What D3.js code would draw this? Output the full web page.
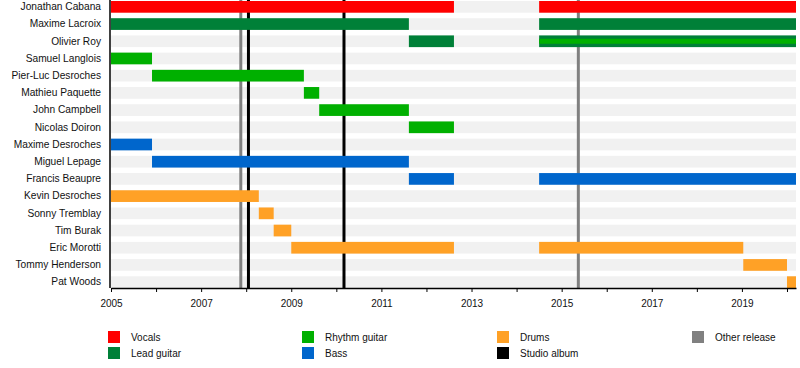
<!DOCTYPE html>
<html>
<head>
<meta charset="utf-8">
<script src="https://cdn.jsdelivr.net/npm/d3@7"></script>
<style>
  html, body { margin: 0; padding: 0; background: #fff; }
  svg { display: block; font-family: "Liberation Sans", Arial, sans-serif; }
</style>
</head>
<body>
<svg id="chart" width="800" height="368"></svg>
<script>
const members = ["Jonathan Cabana","Maxime Lacroix","Olivier Roy","Samuel Langlois","Pier-Luc Desroches",
  "Mathieu Paquette","John Campbell","Nicolas Doiron","Maxime Desroches","Miguel Lepage","Francis Beaupre",
  "Kevin Desroches","Sonny Tremblay","Tim Burak","Eric Morotti","Tommy Henderson","Pat Woods"];
const roleNames = ["Vocals","Lead guitar","Rhythm guitar","Bass","Drums"];
const roleColors = ["#ff0000","#008038","#00b000","#0066cc","#ffa126"];
// [member, role, start, end]
const tenures = [
  ["Jonathan Cabana","Vocals",2005,2012.61],["Jonathan Cabana","Vocals",2014.5,2020.2],
  ["Maxime Lacroix","Lead guitar",2005,2011.61],["Maxime Lacroix","Lead guitar",2014.5,2020.2],
  ["Olivier Roy","Lead guitar",2011.61,2012.61],["Olivier Roy","Lead guitar",2014.5,2020.2],
  ["Samuel Langlois","Rhythm guitar",2005,2005.91],
  ["Pier-Luc Desroches","Rhythm guitar",2005.91,2009.28],
  ["Mathieu Paquette","Rhythm guitar",2009.28,2009.62],
  ["John Campbell","Rhythm guitar",2009.62,2011.61],
  ["Nicolas Doiron","Rhythm guitar",2011.61,2012.61],
  ["Maxime Desroches","Bass",2005,2005.91],
  ["Miguel Lepage","Bass",2005.91,2011.61],
  ["Francis Beaupre","Bass",2011.61,2012.61],["Francis Beaupre","Bass",2014.5,2020.2],
  ["Kevin Desroches","Drums",2005,2008.28],
  ["Sonny Tremblay","Drums",2008.28,2008.61],
  ["Tim Burak","Drums",2008.61,2009.0],
  ["Eric Morotti","Drums",2009.0,2012.61],["Eric Morotti","Drums",2014.5,2019.03],
  ["Tommy Henderson","Drums",2019.03,2020.0],
  ["Pat Woods","Drums",2020.0,2020.2]
];
// secondary role stripes [member, role, start, end]
const secondary = [["Olivier Roy","Rhythm guitar",2014.5,2020.2]];
const studioAlbums = [2008.05, 2010.17];
const otherReleases = [2007.88, 2015.37];
const yearTicks = [2005,2006,2007,2008,2009,2010,2011,2012,2013,2014,2015,2016,2017,2018,2019,2020];
const startYear = 2005, endYear = 2020.2;
const legendItems = [
  ["Vocals","#ff0000"],["Lead guitar","#008038"],["Rhythm guitar","#00b000"],["Bass","#0066cc"],
  ["Drums","#ffa126"],["Studio album","#000000"],["Other release","#808080"]
];

const svg = d3.select("#chart");
const x = d3.scaleLinear().domain([startYear, endYear]).range([111, 796]);
const y = d3.scaleBand().domain(members).range([1, 288]).paddingInner(0.32).paddingOuter(0);
const color = d3.scaleOrdinal().domain(roleNames).range(roleColors);

// background stripes
svg.append("g").selectAll("rect").data(members).join("rect")
  .attr("x", x(startYear)).attr("width", x(endYear) - x(startYear))
  .attr("y", d => y(d)).attr("height", y.bandwidth())
  .attr("fill", "#f1f1f1");

// release lines
svg.append("g").selectAll("line").data(otherReleases).join("line")
  .attr("x1", d => x(d)).attr("x2", d => x(d)).attr("y1", 0).attr("y2", 288)
  .attr("stroke", "#808080").attr("stroke-width", 3);
svg.append("g").selectAll("line").data(studioAlbums).join("line")
  .attr("x1", d => x(d)).attr("x2", d => x(d)).attr("y1", 0).attr("y2", 288)
  .attr("stroke", "#000").attr("stroke-width", 3);

// bars
svg.append("g").selectAll("rect").data(tenures).join("rect")
  .attr("x", d => x(d[2])).attr("width", d => x(d[3]) - x(d[2]))
  .attr("y", d => y(d[0])).attr("height", y.bandwidth())
  .attr("fill", d => color(d[1]));
const sh = 5;
svg.append("g").selectAll("rect").data(secondary).join("rect")
  .attr("x", d => x(d[2])).attr("width", d => x(d[3]) - x(d[2]))
  .attr("y", d => y(d[0]) + (y.bandwidth() - sh) / 2).attr("height", sh)
  .attr("fill", d => color(d[1]));

// axes
const xAxis = d3.axisBottom(x).tickValues(yearTicks)
  .tickFormat(d => (d % 2 === 1 ? String(d) : "")).tickSize(4).tickSizeOuter(0).tickPadding(8);
const gx = svg.append("g").attr("transform", "translate(0,288)").call(xAxis);
gx.select(".domain").attr("stroke-width", 1.5);
gx.selectAll("text").attr("font-size", 10).attr("fill", "#111").attr("font-family", "Liberation Sans, Arial, sans-serif");

const yAxis = d3.axisLeft(y).tickSize(0).tickPadding(9);
const gy = svg.append("g").attr("transform", "translate(110,0)").call(yAxis);
gy.select(".domain").attr("d", "M0,0V288").attr("stroke-width", 1.5);
gy.selectAll("text").attr("font-size", 10.2).attr("fill", "#111").attr("font-family", "Liberation Sans, Arial, sans-serif");

// legend
const colX = [108, 302, 497, 692];
const rowY = [331, 347];
const lg = svg.append("g");
legendItems.forEach((it, i) => {
  const c = Math.floor(i / 2), r = i % 2;
  lg.append("rect").attr("x", colX[c]).attr("y", rowY[r]).attr("width", 12).attr("height", 12).attr("fill", it[1]);
  lg.append("text").attr("x", colX[c] + 23).attr("y", rowY[r] + 10).attr("font-size", 10)
    .attr("fill", "#111").text(it[0]);
});
</script>
</body>
</html>
